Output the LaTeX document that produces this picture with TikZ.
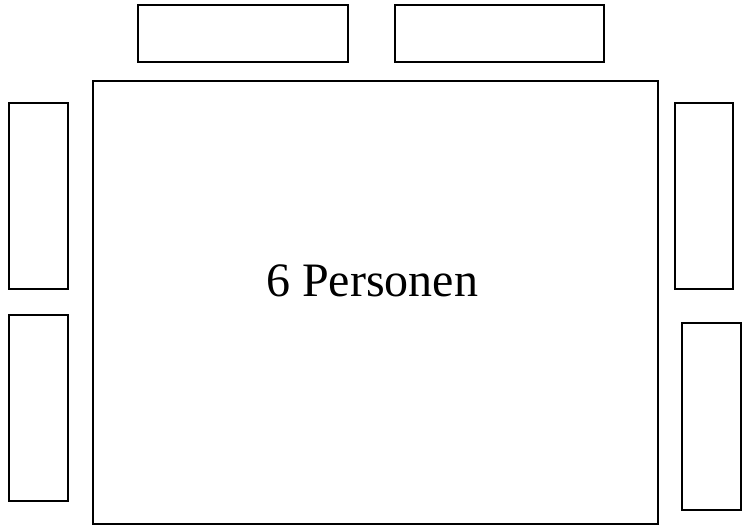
\documentclass[tikz,border=0pt]{standalone}
\usepackage{fontspec}
\setmainfont{Liberation Serif}
\begin{document}
\begin{tikzpicture}[x=1pt,y=-1pt,
  box/.style={draw=black,line width=1.8pt,inner sep=0pt,outer sep=0pt,rectangle},
  lbl/.style={inner sep=0pt,font=\fontsize{48}{58}\selectfont}]
\useasboundingbox (0,0) rectangle (750,526);
\node[box,minimum width=209.4pt,minimum height=57.3pt] (top1) at (243,33.65) {};
\node[box,minimum width=209pt,minimum height=57.3pt] (top2) at (499.8,33.65) {};
\node[box,minimum width=565.3pt,minimum height=443pt] (table) at (375.35,302.2) {};
\node[box,minimum width=58.4pt,minimum height=185.7pt] (l1) at (38.5,196.15) {};
\node[box,minimum width=58.4pt,minimum height=186pt] (l2) at (38.5,408.3) {};
\node[box,minimum width=58pt,minimum height=185.7pt] (r1) at (704.3,196.15) {};
\node[box,minimum width=58.7pt,minimum height=186.7pt] (r2) at (711.65,416.35) {};
\node[lbl,anchor=base] (label) at (372.2,296.7) {6 Personen};
\end{tikzpicture}
\end{document}
